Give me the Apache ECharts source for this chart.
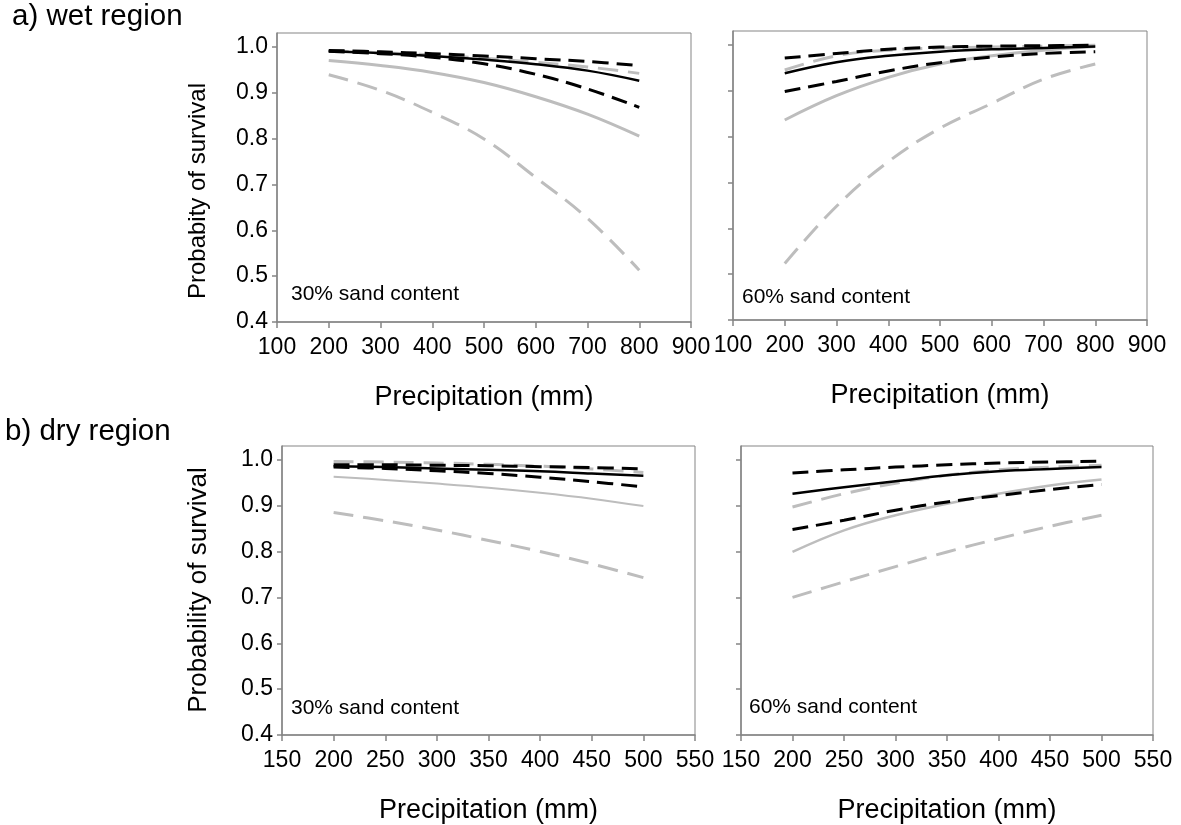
<!DOCTYPE html>
<html>
<head>
<meta charset="utf-8">
<title>Probability of survival vs precipitation</title>
<script src="https://cdn.jsdelivr.net/npm/echarts@6/dist/echarts.min.js"></script>
<style>
  html, body { margin: 0; padding: 0; background: #fff; }
  #chart { width: 1181px; height: 825px; }
</style>
</head>
<body>
<div id="chart"></div>
<script>
// Precipitation levels (mm) at which the curves are drawn
const wetPrecip = [200, 300, 400, 500, 600, 700, 800];
const dryPrecip = [200, 250, 300, 350, 400, 450, 500];

// Y axis tick values shared by all panels
const yTicks = [0.4, 0.5, 0.6, 0.7, 0.8, 0.9, 1.0];

// a) wet region, 30% sand content
const wet30BlackMean  = [0.990, 0.986, 0.980, 0.972, 0.962, 0.948, 0.926];
const wet30BlackUpper = [0.992, 0.989, 0.985, 0.980, 0.974, 0.968, 0.959];
const wet30BlackLower = [0.990, 0.985, 0.977, 0.963, 0.940, 0.908, 0.868];
const wet30GreyMean   = [0.970, 0.959, 0.944, 0.922, 0.891, 0.853, 0.805];
const wet30GreyUpper  = [0.991, 0.987, 0.982, 0.975, 0.966, 0.956, 0.942];
const wet30GreyLower  = [0.939, 0.905, 0.857, 0.799, 0.715, 0.626, 0.513];

// a) wet region, 60% sand content
const wet60BlackMean  = [0.938, 0.962, 0.976, 0.985, 0.990, 0.993, 0.996];
const wet60BlackUpper = [0.971, 0.981, 0.990, 0.995, 0.997, 0.998, 0.999];
const wet60BlackLower = [0.898, 0.920, 0.943, 0.961, 0.973, 0.981, 0.985];
const wet60GreyMean   = [0.836, 0.889, 0.929, 0.958, 0.976, 0.988, 0.996];
const wet60GreyUpper  = [0.945, 0.976, 0.988, 0.993, 0.995, 0.997, 0.999];
const wet60GreyLower  = [0.523, 0.648, 0.745, 0.818, 0.872, 0.925, 0.958];

// b) dry region, 30% sand content
const dry30BlackMean  = [0.986, 0.984, 0.981, 0.978, 0.975, 0.970, 0.965];
const dry30BlackUpper = [0.989, 0.989, 0.988, 0.987, 0.985, 0.983, 0.980];
const dry30BlackLower = [0.984, 0.981, 0.976, 0.970, 0.962, 0.952, 0.941];
const dry30GreyMean   = [0.963, 0.956, 0.948, 0.939, 0.928, 0.915, 0.899];
const dry30GreyUpper  = [0.996, 0.995, 0.993, 0.990, 0.986, 0.980, 0.972];
const dry30GreyLower  = [0.885, 0.867, 0.847, 0.824, 0.800, 0.773, 0.743];

// b) dry region, 60% sand content
const dry60BlackMean  = [0.926, 0.940, 0.953, 0.966, 0.975, 0.980, 0.984];
const dry60BlackUpper = [0.971, 0.978, 0.984, 0.989, 0.993, 0.995, 0.997];
const dry60BlackLower = [0.848, 0.868, 0.890, 0.908, 0.922, 0.935, 0.946];
const dry60GreyMean   = [0.799, 0.846, 0.879, 0.904, 0.926, 0.944, 0.957];
const dry60GreyUpper  = [0.897, 0.926, 0.949, 0.966, 0.978, 0.984, 0.988];
const dry60GreyLower  = [0.700, 0.734, 0.767, 0.799, 0.828, 0.855, 0.879];

const FONT = '"Liberation Sans", Arial, Helvetica, sans-serif';
const BLACK = '#000000';
const GREY = '#bdbdbd';
const AXIS_GREY = '#858585';

const panels = [
  { grid: { left: 277, top: 33, width: 414, height: 289 },
    x: { min: 100, max: 900, interval: 100 }, precip: wetPrecip, labels: true, greyMeanWidth: 3,
    lines: [wet30GreyUpper, wet30GreyLower, wet30GreyMean, wet30BlackUpper, wet30BlackLower, wet30BlackMean] },
  { grid: { left: 733, top: 31, width: 414, height: 289 },
    x: { min: 100, max: 900, interval: 100 }, precip: wetPrecip, labels: false, greyMeanWidth: 3,
    lines: [wet60GreyUpper, wet60GreyLower, wet60GreyMean, wet60BlackUpper, wet60BlackLower, wet60BlackMean] },
  { grid: { left: 282, top: 446, width: 413, height: 290 },
    x: { min: 150, max: 550, interval: 50 }, precip: dryPrecip, labels: true, greyMeanWidth: 2,
    lines: [dry30GreyUpper, dry30GreyLower, dry30GreyMean, dry30BlackUpper, dry30BlackLower, dry30BlackMean] },
  { grid: { left: 741, top: 446, width: 412, height: 289 },
    x: { min: 150, max: 550, interval: 50 }, precip: dryPrecip, labels: false, greyMeanWidth: 2.5,
    lines: [dry60GreyUpper, dry60GreyLower, dry60GreyMean, dry60BlackUpper, dry60BlackLower, dry60BlackMean] }
];

// Line styles for: grey upper CI, grey lower CI, grey mean, black upper CI, black lower CI, black mean
function lineStyles(p) {
  return [
    { color: GREY, width: 3, type: [20, 10] },
    { color: GREY, width: 3, type: [20, 10] },
    { color: GREY, width: p.greyMeanWidth, type: 'solid' },
    { color: BLACK, width: 3, type: [16, 8] },
    { color: BLACK, width: 3, type: [16, 8] },
    { color: BLACK, width: 2.5, type: 'solid' }
  ];
}

const grids = [], xAxes = [], yAxes = [], series = [];
panels.forEach((p, i) => {
  grids.push(Object.assign({ show: true, borderColor: AXIS_GREY, borderWidth: 1, backgroundColor: '#fff' }, p.grid));
  xAxes.push({
    type: 'value', gridIndex: i, min: p.x.min, max: p.x.max, interval: p.x.interval,
    axisLine: { show: true, onZero: false, lineStyle: { color: AXIS_GREY, width: 1.5 } },
    axisTick: { show: true, inside: false, length: 6, lineStyle: { color: AXIS_GREY, width: 1.5 } },
    axisLabel: { show: true, color: '#000', fontFamily: FONT, fontSize: 23, margin: 14 },
    splitLine: { show: false },
    name: 'Precipitation (mm)', nameLocation: 'middle', nameGap: 62,
    nameTextStyle: { color: '#000', fontFamily: FONT, fontSize: 27 }
  });
  yAxes.push({
    type: 'value', gridIndex: i, min: 0.4, max: 1.03,
    axisLine: { show: true, onZero: false, lineStyle: { color: AXIS_GREY, width: 1.5 } },
    axisTick: { show: true, inside: false, length: 5, customValues: yTicks, lineStyle: { color: AXIS_GREY, width: 1.5 } },
    axisLabel: { show: p.labels, customValues: yTicks, color: '#000', fontFamily: FONT, fontSize: 23, margin: 9,
                 formatter: v => v.toFixed(1) },
    splitLine: { show: false }
  });
  const styles = lineStyles(p);
  p.lines.forEach((vals, k) => {
    series.push({
      type: 'line', xAxisIndex: i, yAxisIndex: i,
      data: p.precip.map((x, j) => [x, vals[j]]),
      smooth: 0.4, symbol: 'none', silent: true,
      lineStyle: styles[k], z: 2 + k
    });
  });
});

const textStyle = (size) => ({ fill: '#000', font: size + 'px ' + FONT });

const chart = echarts.init(document.getElementById('chart'), null, { renderer: 'canvas' });
chart.setOption({
  animation: false,
  backgroundColor: '#fff',
  grid: grids,
  xAxis: xAxes,
  yAxis: yAxes,
  series: series,
  graphic: [
    { type: 'text', left: 12, top: 2, style: Object.assign({ text: 'a) wet region' }, textStyle(29.5)) },
    { type: 'text', left: 5, top: 417, style: Object.assign({ text: 'b) dry region' }, textStyle(29.5)) },
    { type: 'text', x: 198, y: 191, rotation: Math.PI / 2,
      style: Object.assign({ text: 'Probabity of survival', align: 'center', verticalAlign: 'middle' }, textStyle(24)) },
    { type: 'text', x: 199, y: 590, rotation: Math.PI / 2,
      style: Object.assign({ text: 'Probability of survival', align: 'center', verticalAlign: 'middle' }, textStyle(26)) },
    { type: 'text', x: 291, y: 294, style: Object.assign({ text: '30% sand content', verticalAlign: 'middle' }, textStyle(21)) },
    { type: 'text', x: 742, y: 297, style: Object.assign({ text: '60% sand content', verticalAlign: 'middle' }, textStyle(21)) },
    { type: 'text', x: 291, y: 708, style: Object.assign({ text: '30% sand content', verticalAlign: 'middle' }, textStyle(21)) },
    { type: 'text', x: 749, y: 707, style: Object.assign({ text: '60% sand content', verticalAlign: 'middle' }, textStyle(21)) }
  ]
});
</script>
</body>
</html>
